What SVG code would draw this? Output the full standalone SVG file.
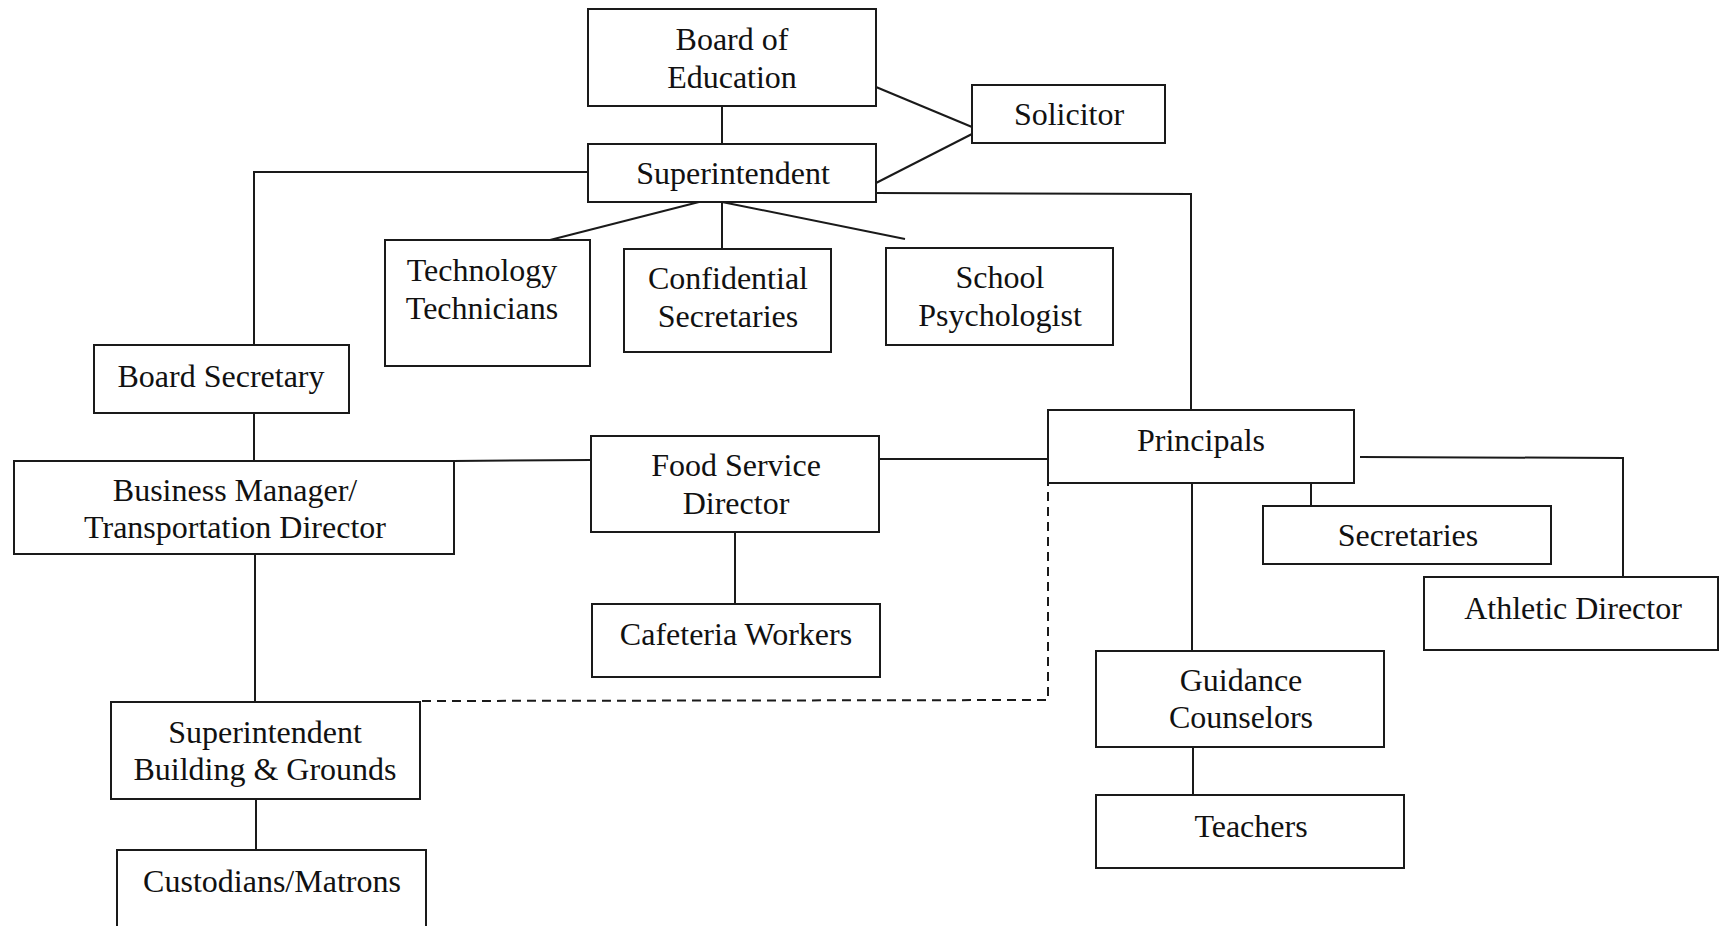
<svg xmlns="http://www.w3.org/2000/svg" width="1721" height="926" viewBox="0 0 1721 926">
<style>
.box{fill:#fff;stroke:#1a1a1a;stroke-width:2}
.ln{fill:none;stroke:#1a1a1a;stroke-width:2}
.dash{fill:none;stroke:#1a1a1a;stroke-width:2;stroke-dasharray:9 6}
text{font-family:"Liberation Serif","Times New Roman",serif;font-size:32px;fill:#111;text-anchor:middle}
</style>
<rect width="1721" height="926" fill="#fff"/>
<g id="connectors">
<line class="ln" x1="722" y1="106" x2="722" y2="144"/>
<line class="ln" x1="876" y1="87" x2="972" y2="127"/>
<line class="ln" x1="876" y1="183" x2="972" y2="134"/>
<polyline class="ln" points="588,172 254,172 254,345"/>
<polyline class="ln" points="876,193 1191,194 1191,410"/>
<line class="ln" x1="699" y1="202" x2="550" y2="240"/>
<line class="ln" x1="722" y1="202" x2="722" y2="249"/>
<line class="ln" x1="722" y1="202" x2="905" y2="239"/>
<line class="ln" x1="254" y1="413" x2="254" y2="461"/>
<line class="ln" x1="453" y1="461" x2="591" y2="460"/>
<line class="ln" x1="879" y1="459" x2="1048" y2="459"/>
<line class="ln" x1="735" y1="532" x2="735" y2="604"/>
<line class="ln" x1="255" y1="554" x2="255" y2="702"/>
<line class="ln" x1="256" y1="799" x2="256" y2="850"/>
<polyline class="dash" points="422,701 1048,700 1048,483"/>
<polyline class="ln" points="1360,457 1623,458 1623,577"/>
<line class="ln" x1="1311" y1="483" x2="1311" y2="506"/>
<line class="ln" x1="1192" y1="483" x2="1192" y2="651"/>
<line class="ln" x1="1193" y1="747" x2="1193" y2="795"/>
</g>
<g id="board-of-education">
<rect class="box" x="588" y="9" width="288" height="97"/>
<text x="732" y="50">Board of</text>
<text x="732" y="88">Education</text>
</g>
<g id="superintendent">
<rect class="box" x="588" y="144" width="288" height="58"/>
<text x="733" y="184">Superintendent</text>
</g>
<g id="solicitor">
<rect class="box" x="972" y="85" width="193" height="58"/>
<text x="1069" y="125">Solicitor</text>
</g>
<g id="technology-technicians">
<rect class="box" x="385" y="240" width="205" height="126"/>
<text x="482" y="281">Technology</text>
<text x="482" y="319">Technicians</text>
</g>
<g id="confidential-secretaries">
<rect class="box" x="624" y="249" width="207" height="103"/>
<text x="728" y="289">Confidential</text>
<text x="728" y="327">Secretaries</text>
</g>
<g id="school-psychologist">
<rect class="box" x="886" y="248" width="227" height="97"/>
<text x="1000" y="288">School</text>
<text x="1000" y="326">Psychologist</text>
</g>
<g id="board-secretary">
<rect class="box" x="94" y="345" width="255" height="68"/>
<text x="221" y="387">Board Secretary</text>
</g>
<g id="principals">
<rect class="box" x="1048" y="410" width="306" height="73"/>
<text x="1201" y="451">Principals</text>
</g>
<g id="business-manager">
<rect class="box" x="14" y="461" width="440" height="93"/>
<text x="235" y="501">Business Manager/</text>
<text x="235" y="538">Transportation Director</text>
</g>
<g id="food-service-director">
<rect class="box" x="591" y="436" width="288" height="96"/>
<text x="736" y="476">Food Service</text>
<text x="736" y="514">Director</text>
</g>
<g id="cafeteria-workers">
<rect class="box" x="592" y="604" width="288" height="73"/>
<text x="736" y="645">Cafeteria Workers</text>
</g>
<g id="secretaries">
<rect class="box" x="1263" y="506" width="288" height="58"/>
<text x="1408" y="546">Secretaries</text>
</g>
<g id="athletic-director">
<rect class="box" x="1424" y="577" width="294" height="73"/>
<text x="1573" y="619">Athletic Director</text>
</g>
<g id="guidance-counselors">
<rect class="box" x="1096" y="651" width="288" height="96"/>
<text x="1241" y="691">Guidance</text>
<text x="1241" y="728">Counselors</text>
</g>
<g id="teachers">
<rect class="box" x="1096" y="795" width="308" height="73"/>
<text x="1251" y="837">Teachers</text>
</g>
<g id="superintendent-building-grounds">
<rect class="box" x="111" y="702" width="309" height="97"/>
<text x="265" y="743">Superintendent</text>
<text x="265" y="780">Building &amp; Grounds</text>
</g>
<g id="custodians-matrons">
<rect class="box" x="117" y="850" width="309" height="90"/>
<text x="272" y="892">Custodians/Matrons</text>
</g>
</svg>
